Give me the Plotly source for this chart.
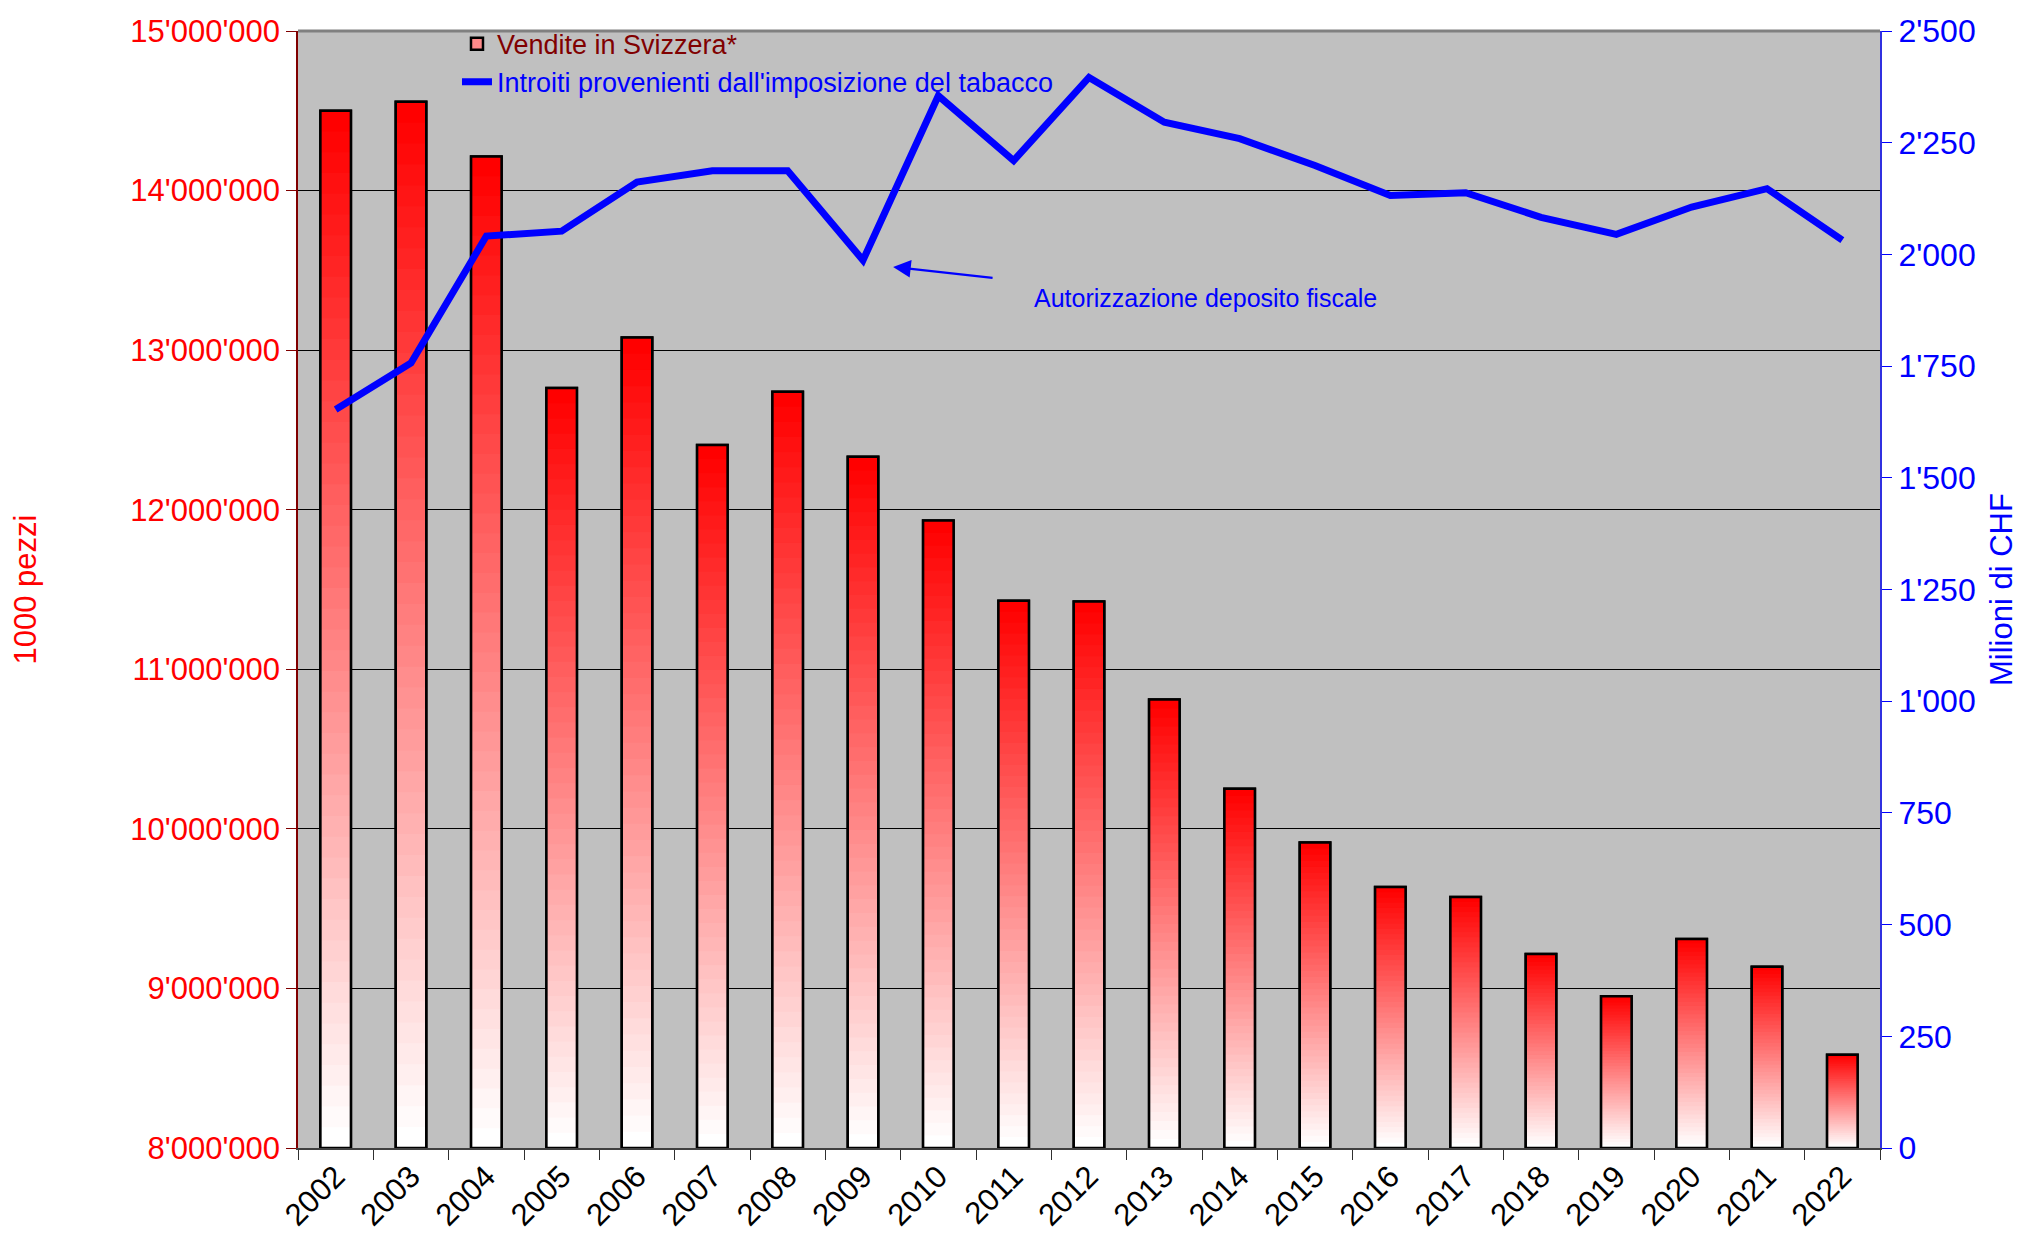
import plotly.graph_objects as go

years = ["2002", "2003", "2004", "2005", "2006", "2007", "2008", "2009", "2010", "2011",
         "2012", "2013", "2014", "2015", "2016", "2017", "2018", "2019", "2020", "2021", "2022"]
sales = [14500000, 14557000, 14214000, 12762000, 13079000, 12405000, 12740000, 12332000,
         11933000, 11430000, 11425000, 10810000, 10251000, 9915000, 9635000, 9573000,
         9215000, 8951000, 9309000, 9136000, 8585000]
revenue = [1653, 1757, 2041, 2052, 2162, 2187, 2187, 1987, 2355, 2210, 2396, 2296, 2259,
           2199, 2132, 2138, 2083, 2045, 2106, 2147, 2032]

sales_name = "Vendite in Svizzera*"
revenue_name = "Introiti provenienti dall'imposizione del tabacco"
left_title = "1000 pezzi"
right_title = "Milioni di CHF"
note_text = "Autorizzazione deposito fiscale"

y_min, y_max = 8000000, 15000000
FONT = "Arial, Liberation Sans, sans-serif"

fig = go.Figure()

# legend-carrying bar (drawn first, covered by gradient)
fig.add_trace(go.Bar(
    x=years, y=[v - y_min for v in sales], base=[y_min] * len(sales),
    name="<span style='color:#800000'>" + sales_name + "</span>",
    marker=dict(color="#FF8A8A", line=dict(color="black", width=2.5)),
    showlegend=True, hoverinfo="skip",
))

# vertical gradient per bar (white bottom -> red top)
N = 50
for k in range(N):
    frac = k / (N - 1)
    g = int(round(255 * (1 - frac)))
    color = f"rgb(255,{g},{g})"
    step = [(v - y_min) / N for v in sales]
    bases = [y_min + s * k for s in step]
    heights = [s * (1.8 if k < N - 1 else 1.0) for s in step]
    fig.add_trace(go.Bar(
        x=years, y=heights, base=bases,
        marker=dict(color=color, line=dict(width=0)),
        showlegend=False, hoverinfo="skip",
    ))

# outline
fig.add_trace(go.Bar(
    x=years, y=[v - y_min for v in sales], base=[y_min] * len(sales),
    marker=dict(color="rgba(0,0,0,0)", line=dict(color="black", width=2.5)),
    showlegend=False, hovertemplate="%{x}: %{y}<extra></extra>",
))

fig.add_trace(go.Scatter(
    x=years, y=revenue, yaxis="y2", mode="lines",
    name="<span style='color:#0000FF'>" + revenue_name + "</span>",
    line=dict(color="#0000FF", width=7),
))

fig.update_layout(
    width=2011, height=1223, autosize=False,
    margin=dict(l=290, r=139, t=14, b=83),
    paper_bgcolor="white", plot_bgcolor="#C0C0C0",
    barmode="overlay", bargap=0.595,
    separators=".'",
    font=dict(family=FONT, size=30, color="black"),
    legend=dict(x=0.1005, y=1.0102, xanchor="left", yanchor="top",
                bgcolor="rgba(0,0,0,0)", font=dict(size=27, family=FONT),
                tracegroupgap=0),
    xaxis=dict(type="category", categoryorder="array", categoryarray=years,
               range=[-0.5, 20.5], tickson="boundaries", ticks="outside", ticklen=10,
               tickcolor="#303030", tickwidth=1, tickangle=-45,
               tickfont=dict(size=31, color="black", family=FONT),
               ticklabelstandoff=-4,
               showline=True, linecolor="#404040", linewidth=2, showgrid=False,
               zeroline=False, automargin=False),
    xaxis2=dict(overlaying="x", anchor="y", side="bottom", type="linear",
                range=[-0.5, 20.5], tick0=-0.5, dtick=1, ticks="inside", ticklen=10,
                tickcolor="#303030", showticklabels=False, showgrid=False,
                showline=False, zeroline=False, automargin=False),
    yaxis=dict(range=[y_min, y_max], dtick=1000000, tickformat=",d",
               ticks="outside", ticklen=10, tickcolor="#800000",
               tickfont=dict(size=31, color="#FF0000", family=FONT),
               showline=True, linecolor="#800000", linewidth=1.5,
               showgrid=True, gridcolor="black", gridwidth=1, zeroline=False,
               automargin=False,
               title=dict(text=left_title, font=dict(size=31, color="#FF0000", family=FONT),
                          standoff=90)),
    yaxis3=dict(overlaying="y", anchor="x", side="left", range=[y_min, y_max],
                dtick=1000000, ticks="inside", ticklen=9, tickcolor="#800000",
                showticklabels=False, showgrid=False, showline=False, zeroline=False,
                automargin=False),
    yaxis2=dict(overlaying="y", anchor="x", side="right", range=[0, 2500], dtick=250,
                tickformat=",d", ticks="outside", ticklen=10, tickcolor="#0000FF",
                tickfont=dict(size=32, color="#0000FF", family=FONT),
                showline=True, linecolor="#3030E0", linewidth=2, showgrid=False,
                zeroline=False, automargin=False,
                title=dict(text=right_title, font=dict(size=31, color="#0000FF", family=FONT),
                           standoff=22)),
    yaxis4=dict(overlaying="y", anchor="x", side="right", range=[0, 2500], dtick=250,
                ticks="inside", ticklen=9, tickcolor="#0000FF", showticklabels=False,
                showgrid=False, showline=False, zeroline=False, automargin=False),
    shapes=[dict(type="line", xref="paper", yref="paper", x0=0, x1=1, y0=1, y1=1,
                 line=dict(color="#808080", width=3))],
    annotations=[
        dict(x=7.40, y=1972, xref="x", yref="y2", ax=8.74, ay=1947, axref="x", ayref="y2",
             showarrow=True, arrowhead=2, arrowsize=1.6, arrowwidth=2.2,
             arrowcolor="#0000FF", text=""),
        dict(x=9.24, y=1903, xref="x", yref="y2", text=note_text, showarrow=False,
             xanchor="left", yanchor="middle",
             font=dict(size=25, color="#0000FF", family=FONT)),
    ],
)

fig.write_html("out.html")
